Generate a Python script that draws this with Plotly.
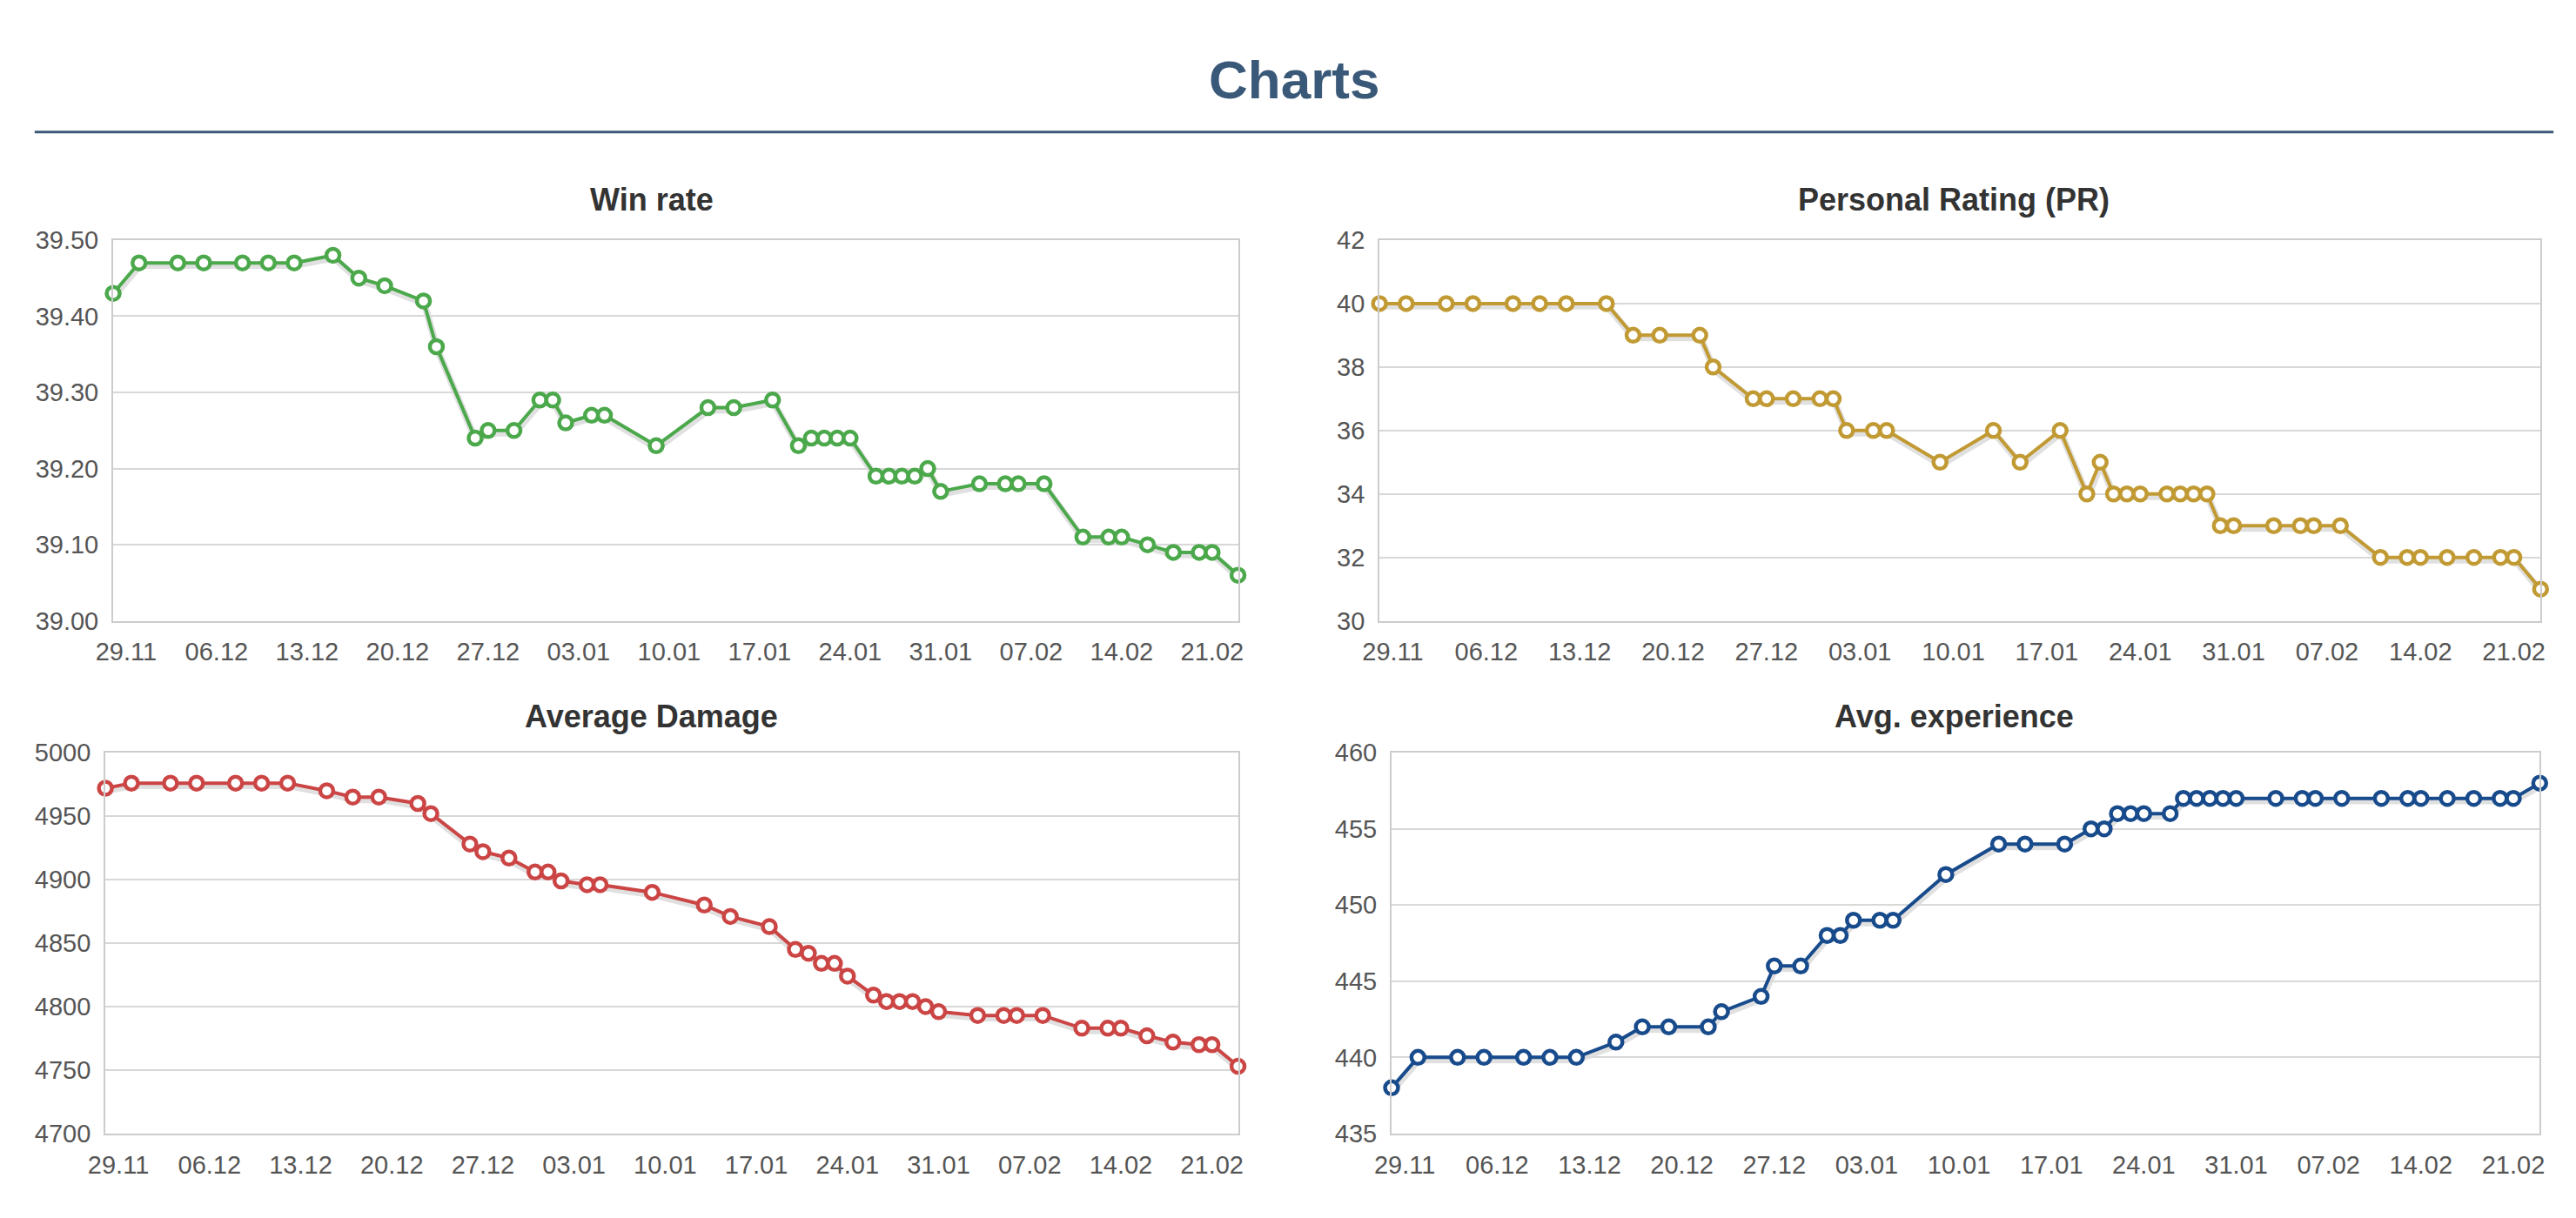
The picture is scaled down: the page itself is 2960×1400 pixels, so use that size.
import plotly.graph_objects as go

W, H = 2960, 1400  # reference canvas used to place the panels

# ---------------- data ----------------
dates = [
    "2016-11-28", "2016-11-30", "2016-12-03", "2016-12-05", "2016-12-08", "2016-12-10",
    "2016-12-12", "2016-12-15", "2016-12-17", "2016-12-19", "2016-12-22", "2016-12-23",
    "2016-12-26", "2016-12-27", "2016-12-29", "2016-12-31", "2017-01-01", "2017-01-02",
    "2017-01-04", "2017-01-05", "2017-01-09", "2017-01-13", "2017-01-15", "2017-01-18",
    "2017-01-20", "2017-01-21", "2017-01-22", "2017-01-23", "2017-01-24", "2017-01-26",
    "2017-01-27", "2017-01-28", "2017-01-29", "2017-01-30", "2017-01-31", "2017-02-03",
    "2017-02-05", "2017-02-06", "2017-02-08", "2017-02-11", "2017-02-13", "2017-02-14",
    "2017-02-16", "2017-02-18", "2017-02-20", "2017-02-21", "2017-02-23",
]

win_rate = [
    39.43, 39.47, 39.47, 39.47, 39.47, 39.47, 39.47, 39.48, 39.45, 39.44, 39.42, 39.36,
    39.24, 39.25, 39.25, 39.29, 39.29, 39.26, 39.27, 39.27, 39.23, 39.28, 39.28, 39.29,
    39.23, 39.24, 39.24, 39.24, 39.24, 39.19, 39.19, 39.19, 39.19, 39.20, 39.17, 39.18,
    39.18, 39.18, 39.18, 39.11, 39.11, 39.11, 39.10, 39.09, 39.09, 39.09, 39.06,
]

personal_rating = [
    40, 40, 40, 40, 40, 40, 40, 40, 39, 39, 39, 38,
    37, 37, 37, 37, 37, 36, 36, 36, 35, 36, 35, 36,
    34, 35, 34, 34, 34, 34, 34, 34, 34, 33, 33, 33,
    33, 33, 33, 32, 32, 32, 32, 32, 32, 32, 31,
]

average_damage = [
    4972, 4976, 4976, 4976, 4976, 4976, 4976, 4970, 4965, 4965, 4960, 4952,
    4928, 4922, 4917, 4906, 4906, 4899, 4896, 4896, 4890, 4880, 4871, 4863,
    4845, 4842, 4834, 4834, 4824, 4809, 4804, 4804, 4804, 4800, 4796, 4793,
    4793, 4793, 4793, 4783, 4783, 4783, 4777, 4772, 4770, 4770, 4753,
]

avg_experience = [
    438, 440, 440, 440, 440, 440, 440, 441, 442, 442, 442, 443,
    444, 446, 446, 448, 448, 449, 449, 449, 452, 454, 454, 454,
    455, 455, 456, 456, 456, 456, 457, 457, 457, 457, 457, 457,
    457, 457, 457, 457, 457, 457, 457, 457, 457, 457, 458,
]

x_tick_start = "2016-11-29"
titles = ["Win rate", "Personal Rating (PR)", "Average Damage", "Avg. experience"]

# ---------------- layout config ----------------
charts = [
    dict(y=win_rate, color="#4BA84B", box=(111, 1415, 266, 714),
         yr=(39.0, 39.5), dt=0.1, fmt=".2f", tc=(735, 219)),
    dict(y=personal_rating, color="#C19A33", box=(1579, 2925, 266, 714),
         yr=(30, 42), dt=2, fmt="d", tc=(2245, 219)),
    dict(y=average_damage, color="#CC4545", box=(102, 1415, 869, 1317),
         yr=(4700, 5000), dt=50, fmt="d", tc=(735, 826)),
    dict(y=avg_experience, color="#184B8C", box=(1593, 2924, 869, 1317),
         yr=(435, 460), dt=5, fmt="d", tc=(2245, 826)),
]

FONT = "Liberation Sans, Arial, sans-serif"
fig = go.Figure()
layout = dict(
    autosize=True, margin=dict(l=0, r=0, t=0, b=0, pad=0),
    paper_bgcolor="white", plot_bgcolor="rgba(0,0,0,0)",
    showlegend=False, font=dict(family=FONT),
    annotations=[], shapes=[],
)

def px2x(p):
    return p / W

def py2y(p):
    return 1 - p / H

SH_DX, SH_DY = 1, 3

for i, c in enumerate(charts):
    x0, x1, y0, y1 = c["box"]
    s = i + 1
    m = i + 5
    sx = "x" if s == 1 else f"x{s}"
    sy = "y" if s == 1 else f"y{s}"
    # soft shadow of the series line (separate hidden subplot, slightly offset)
    layout["xaxis" if s == 1 else f"xaxis{s}"] = dict(
        domain=[px2x(x0 + SH_DX), px2x(x1 + SH_DX)], range=[dates[0], dates[-1]],
        type="date", visible=False, anchor=sy, fixedrange=True)
    layout["yaxis" if s == 1 else f"yaxis{s}"] = dict(
        domain=[py2y(y1 + SH_DY), py2y(y0 + SH_DY)], range=list(c["yr"]),
        visible=False, anchor=sx, fixedrange=True)
    fig.add_trace(go.Scatter(
        x=dates, y=c["y"], xaxis=sx, yaxis=sy, mode="lines",
        line=dict(color="rgba(0,0,0,0.12)", width=8), hoverinfo="skip",
        cliponaxis=False))

    mx, my = f"x{m}", f"y{m}"
    layout[f"xaxis{m}"] = dict(
        domain=[px2x(x0), px2x(x1)], range=[dates[0], dates[-1]], type="date",
        anchor=my, tick0=x_tick_start, dtick=7 * 86400000, tickformat="%d.%m",
        showgrid=False, zeroline=False, ticks="",
        showline=True, mirror=True, linecolor="#cccccc", linewidth=2,
        tickfont=dict(size=29, color="#555555", family=FONT),
        ticklabelstandoff=9, fixedrange=True)
    layout[f"yaxis{m}"] = dict(
        domain=[py2y(y1), py2y(y0)], range=list(c["yr"]), dtick=c["dt"],
        tick0=c["yr"][0], tickformat=c["fmt"], anchor=mx,
        showgrid=True, gridcolor="#d8d8d8", gridwidth=2, zeroline=False, ticks="",
        showline=True, mirror=True, linecolor="#cccccc", linewidth=2,
        tickfont=dict(size=29, color="#555555", family=FONT),
        ticklabelstandoff=9, fixedrange=True)
    fig.add_trace(go.Scatter(
        x=dates, y=c["y"], xaxis=mx, yaxis=my, mode="lines+markers",
        line=dict(color=c["color"], width=4),
        marker=dict(symbol="circle", size=15, color="white",
                    line=dict(color=c["color"], width=4.5)),
        cliponaxis=False))

    layout["annotations"].append(dict(
        text=f"<b>{titles[i]}</b>", x=px2x(c["tc"][0]), y=py2y(c["tc"][1]),
        xref="paper", yref="paper", xanchor="center", yanchor="middle",
        showarrow=False, font=dict(size=36, color="#333333", family=FONT)))

# main heading and rule
layout["annotations"].append(dict(
    text="<b>Charts</b>", x=0.5, y=py2y(77), xref="paper", yref="paper",
    xanchor="center", yanchor="middle", showarrow=False,
    font=dict(size=62, color="#3A5878", family=FONT)))
layout["shapes"].append(dict(
    type="line", xref="paper", yref="paper", x0=px2x(20), x1=px2x(2940),
    y0=py2y(139), y1=py2y(139), line=dict(color="#3A5878", width=3)))

fig.update_layout(**layout)
fig.write_html(
    "out.html",
    config={"displayModeBar": False, "responsive": True},
    default_width="100vw",
    default_height="100vh",
    post_script=(
        "document.documentElement.style.margin='0';"
        "document.documentElement.style.overflow='hidden';"
        "document.body.style.margin='0';"
        "document.body.style.overflow='hidden';"
    ),
)
